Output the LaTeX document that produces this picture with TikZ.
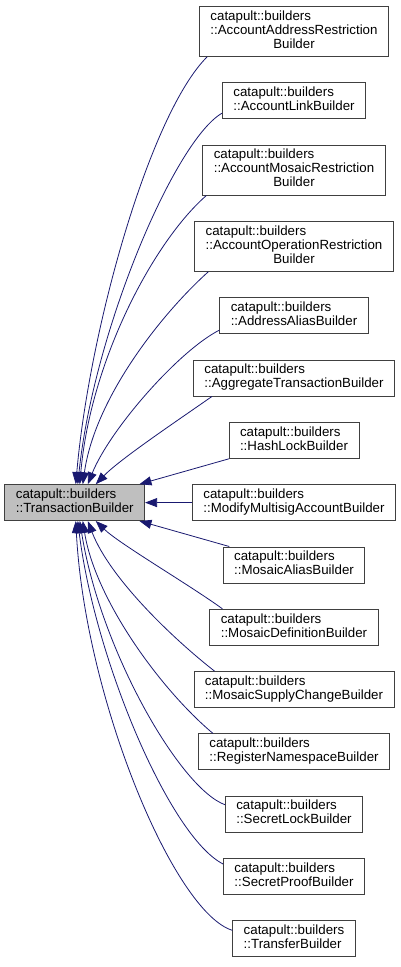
\documentclass[tikz,border=0pt]{standalone}
\usepackage{fontspec}
\setmainfont{Liberation Sans}
\usetikzlibrary{positioning, arrows.meta}
\definecolor{edgeblue}{RGB}{25,25,112}
\definecolor{boxline}{RGB}{64,64,64}
\definecolor{basefill}{RGB}{191,191,191}
\newcommand{\twolines}[2]{\begin{tabular}{@{}l@{}}#1\\#2\end{tabular}}
\newcommand{\threelines}[3]{\begin{tabular}{@{}l@{}}#1\\#2\\\multicolumn{1}{@{}c@{}}{#3}\end{tabular}}
\tikzset{
    ->,  % every edge points at the base class
    >={Triangle[length=12pt,width=9pt]}, % filled heads
    node distance=25.5pt, % gap between the derived classes
    class/.style={draw=boxline, line width=0.8pt, fill=white, inner xsep=11pt, inner ysep=4pt, font=\fontsize{13.3}{14}\selectfont}, % one box per class
    base/.style={class, fill=basefill}, % the class that is looked at
    inherit/.style={edgeblue, line width=0.8pt}, % derived -> base
    }

\begin{document}
\begin{tikzpicture}
    \useasboundingbox (0pt,0pt) rectangle (401pt,-967pt);

    \node[class] at (294pt,-31.5pt) (ADDRRESTRICTION) {\threelines{catapult::builders}{::AccountAddressRestriction}{Builder}};
    \node[class, below=of ADDRRESTRICTION] (ACCOUNTLINK) {\twolines{catapult::builders}{::AccountLinkBuilder}};
    \node[class, below=of ACCOUNTLINK] (MOSAICRESTRICTION) {\threelines{catapult::builders}{::AccountMosaicRestriction}{Builder}};
    \node[class, below=of MOSAICRESTRICTION] (OPRESTRICTION) {\threelines{catapult::builders}{::AccountOperationRestriction}{Builder}};
    \node[class, below=of OPRESTRICTION] (ADDRESSALIAS) {\twolines{catapult::builders}{::AddressAliasBuilder}};
    \node[class, below=of ADDRESSALIAS] (AGGREGATE) {\twolines{catapult::builders}{::AggregateTransactionBuilder}};
    \node[class, below=of AGGREGATE] (HASHLOCK) {\twolines{catapult::builders}{::HashLockBuilder}};
    \node[class, below=of HASHLOCK] (MULTISIG) {\twolines{catapult::builders}{::ModifyMultisigAccountBuilder}};
    \node[class, below=of MULTISIG] (MOSAICALIAS) {\twolines{catapult::builders}{::MosaicAliasBuilder}};
    \node[class, below=of MOSAICALIAS] (MOSAICDEF) {\twolines{catapult::builders}{::MosaicDefinitionBuilder}};
    \node[class, below=of MOSAICDEF] (SUPPLYCHANGE) {\twolines{catapult::builders}{::MosaicSupplyChangeBuilder}};
    \node[class, below=of SUPPLYCHANGE] (NAMESPACE) {\twolines{catapult::builders}{::RegisterNamespaceBuilder}};
    \node[class, below=of NAMESPACE] (SECRETLOCK) {\twolines{catapult::builders}{::SecretLockBuilder}};
    \node[class, below=of SECRETLOCK] (SECRETPROOF) {\twolines{catapult::builders}{::SecretProofBuilder}};
    \node[class, below=of SECRETPROOF] (TRANSFER) {\twolines{catapult::builders}{::TransferBuilder}};

    \node[base, left=47pt of MULTISIG] (TRANSACTION) {\twolines{catapult::builders}{::TransactionBuilder}};

    % from above
    \draw[inherit] ([xshift=8pt]ADDRRESTRICTION.south west) to[out=225, in=85, out distance=81pt, in distance=156pt] ([xshift=1pt]TRANSACTION.north);
    \draw[inherit] ([yshift=6pt]ACCOUNTLINK.south west) to[out=210, in=84, out distance=54pt, in distance=156pt] ([xshift=3pt]TRANSACTION.north);
    \draw[inherit] ([xshift=4pt]MOSAICRESTRICTION.south west) to[out=221, in=85, out distance=69pt, in distance=125pt] ([xshift=5pt]TRANSACTION.north);
    \draw[inherit] ([xshift=14pt]OPRESTRICTION.south west) to[out=222, in=82, out distance=65pt, in distance=86pt] ([xshift=8pt]TRANSACTION.north);
    \draw[inherit] ([yshift=4pt]ADDRESSALIAS.south west) to[out=207, in=68, out distance=46pt, in distance=59pt] ([xshift=13pt]TRANSACTION.north);
    \draw[inherit] ([xshift=19pt]AGGREGATE.south west) to[out=215, in=46, out distance=40pt, in distance=35pt] ([xshift=21pt]TRANSACTION.north);

    % straight ones
    \draw[inherit] (HASHLOCK) -- (TRANSACTION);
    \draw[inherit] (MULTISIG) -- (TRANSACTION);
    \draw[inherit] (MOSAICALIAS) -- (TRANSACTION);

    % from below
    \draw[inherit] ([xshift=13pt]MOSAICDEF.north west) to[out=144, in=316, out distance=41pt, in distance=33pt] ([xshift=21pt]TRANSACTION.south);
    \draw[inherit] ([xshift=21pt]SUPPLYCHANGE.north west) to[out=142, in=291, out distance=51pt, in distance=62pt] ([xshift=13pt]TRANSACTION.south);
    \draw[inherit] ([xshift=15pt]NAMESPACE.north west) to[out=140, in=279, out distance=69pt, in distance=79pt] ([xshift=8pt]TRANSACTION.south);
    \draw[inherit] ([yshift=-9pt]SECRETLOCK.north west) to[out=160, in=279, out distance=48pt, in distance=130pt] ([xshift=5pt]TRANSACTION.south);
    \draw[inherit] ([yshift=-6pt]SECRETPROOF.north west) to[out=153, in=277, out distance=60pt, in distance=139pt] ([xshift=3pt]TRANSACTION.south);
    \draw[inherit] ([yshift=-10pt]TRANSFER.north west) to[out=163, in=273, out distance=61pt, in distance=178pt] ([xshift=1pt]TRANSACTION.south);

\end{tikzpicture}
\end{document}
